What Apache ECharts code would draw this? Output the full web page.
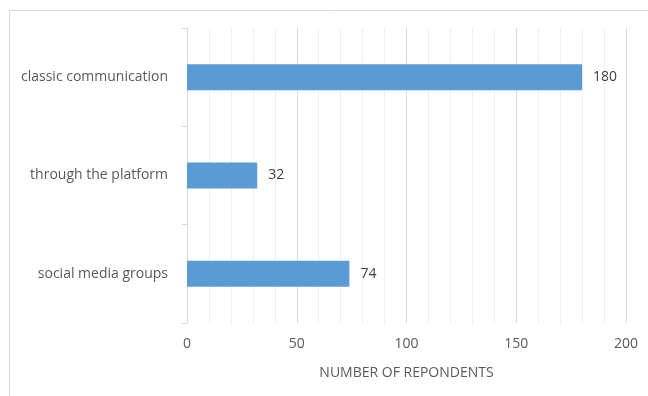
<!DOCTYPE html>
<html>
<head>
<meta charset="utf-8">
<script src="https://cdn.jsdelivr.net/npm/echarts@6/dist/echarts.min.js"></script>
<style>
  html, body { margin: 0; padding: 0; background: #fff; }
  #chart { width: 648px; height: 396px; }
</style>
</head>
<body>
<div id="chart"></div>
<script>
// Categories listed bottom to top (ECharts category y axis grows upward)
const categories = ['social media groups', 'through the platform', 'classic communication'];
const respondents = [74, 32, 180];
const xTicks = [0, 50, 100, 150, 200];
const xTitle = 'NUMBER OF REPONDENTS';

const font = '"Open Sans", "Noto Sans", sans-serif';
const chart = echarts.init(document.getElementById('chart'), null, { renderer: 'canvas' });

chart.setOption({
  animation: false,
  backgroundColor: '#ffffff',
  graphic: [{
    type: 'rect',
    left: 7, top: 8,
    shape: { width: 700, height: 500 },
    style: { fill: 'none', stroke: '#d9d9d9', lineWidth: 1 },
    silent: true
  }],
  grid: { left: 187, right: 22, top: 28, bottom: 73, containLabel: false },
  xAxis: {
    type: 'value',
    min: xTicks[0],
    max: xTicks[xTicks.length - 1],
    interval: 50,
    name: xTitle,
    nameLocation: 'middle',
    nameGap: 43,
    nameTextStyle: { color: '#595959', fontFamily: font, fontSize: 14 },
    axisLine: { show: false },
    axisTick: { show: false },
    axisLabel: { color: '#595959', fontFamily: font, fontSize: 14, margin: 14 },
    splitLine: { show: true, lineStyle: { color: '#d9d9d9', width: 1 } },
    minorTick: { show: false, splitNumber: 5 },
    minorSplitLine: { show: true, lineStyle: { color: '#efefef', width: 1 } }
  },
  yAxis: {
    type: 'category',
    data: categories,
    axisLine: { show: true, lineStyle: { color: '#d9d9d9' } },
    axisTick: { show: true, length: 5, lineStyle: { color: '#d9d9d9' } },
    axisLabel: { color: '#595959', fontFamily: font, fontSize: 14, margin: 19 }
  },
  series: [{
    type: 'bar',
    data: respondents,
    barWidth: 26,
    itemStyle: { color: '#5b9bd5' },
    label: {
      show: true,
      position: 'right',
      distance: 11,
      color: '#404040',
      fontFamily: font,
      fontSize: 14
    }
  }]
});
</script>
</body>
</html>
